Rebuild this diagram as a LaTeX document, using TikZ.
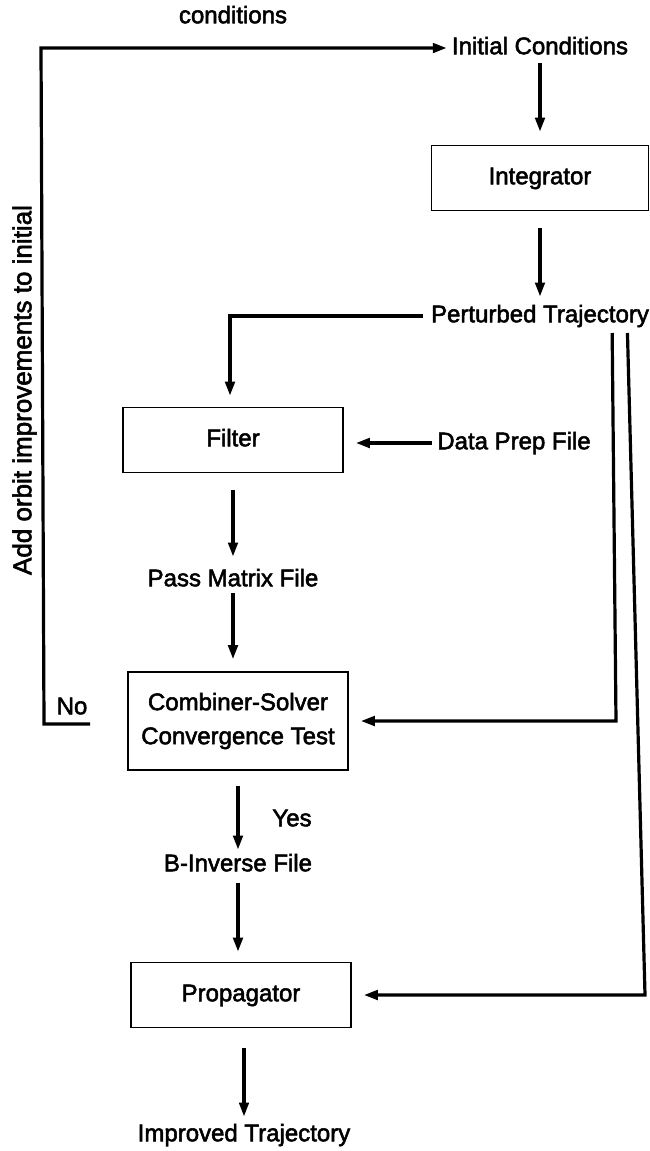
\documentclass[tikz,border=0pt]{standalone}
\usepackage{fontspec}
\newfontfamily\lblfont{Liberation Sans}[FakeBold=2.2]
\usetikzlibrary{arrows.meta}
\begin{document}
\begin{tikzpicture}[x=1pt,y=-1pt,
  every node/.style={font=\lblfont\fontsize{24}{34}\selectfont, inner sep=2pt},
  oneline/.style={text height=17.5pt, text depth=5pt},
  procbox/.style={draw, line width=1.7pt, minimum width=220pt, minimum height=65pt, align=center},
  flow/.style={line width=3.2pt, -{Triangle[length=14pt,width=9.5pt]}}]
\useasboundingbox (0,0) rectangle (650,1151);

% labels and files
\node[oneline] (cond) at (233,17) {conditions};
\node[oneline] (init) at (540,48) {Initial Conditions};
\node[oneline] (pert) at (540,316) {Perturbed Trajectory};
\node[oneline] (data) at (514,443) {Data Prep File};
\node[oneline] (pass) at (233,580) {Pass Matrix File};
\node[oneline] (binv) at (238,865) {B-Inverse File};
\node[oneline] (impr) at (244,1135) {Improved Trajectory};
\node[oneline] (yes) at (292,820) {Yes};
\node[oneline] (no) at (72,708) {No};
\node[oneline, rotate=90, font=\lblfont\fontsize{26}{30}\selectfont] (add) at (25,390) {Add orbit improvements to initial};

% processing boxes
\node[procbox, oneline, minimum width=217pt] (integ) at (540,178) {Integrator};
\node[procbox, oneline] (filter) at (233,440) {Filter};
\node[procbox, minimum height=98pt] (comb) at (238,721) {Combiner-Solver\\Convergence Test};
\node[procbox, oneline] (prop) at (241,995) {Propagator};

% feedback loop ("No" branch) back to the initial conditions
\coordinate (noend) at (90,724);
\draw[flow, shorten >=3pt] (noend) -- (44,724) -- (41,48) -- (init.west);

% helper points for the vertical runs
\coordinate (pertA) at (612,316);
\coordinate (pertB) at (627,316);
\coordinate (pertAbot) at (616,721);
\coordinate (pertBbot) at (645,995);

% main chain
\draw[flow, shorten <=2pt, shorten >=13pt] (init.south) -- (init.south |- integ.north);
\draw[flow, shorten <=17pt, shorten >=6pt] (integ.south) -- (pert.north);
\draw[flow, shorten <=6pt, shorten >=11pt] (pert.west) -- (230,316) -- (230,0 |- filter.north);
\draw[flow, shorten <=3pt, shorten >=12pt] (data.west) -- (filter.east |- data.west);
\draw[flow, shorten <=17pt, shorten >=10pt] (filter.south) -- (pass.north);
\draw[flow, shorten >=12pt] (pass.south) -- (pass.south |- comb.north);
\draw[flow, shorten <=15pt, shorten >=2pt] (binv.north |- comb.south) -- (binv.north);
\draw[flow, shorten <=5pt, shorten >=10pt] (binv.south) -- (binv.south |- prop.north);
\draw[flow, shorten <=20pt, shorten >=5pt] (prop.south -| impr.north) -- (impr.north);

% branches from the perturbed trajectory
\draw[flow, shorten <=17pt, shorten >=12pt] (pertA) -- (pertAbot) -- (comb.east |- pertAbot);
\draw[flow, shorten <=17pt, shorten >=12pt] (pertB) -- (pertBbot) -- (prop.east);
\end{tikzpicture}
\end{document}
